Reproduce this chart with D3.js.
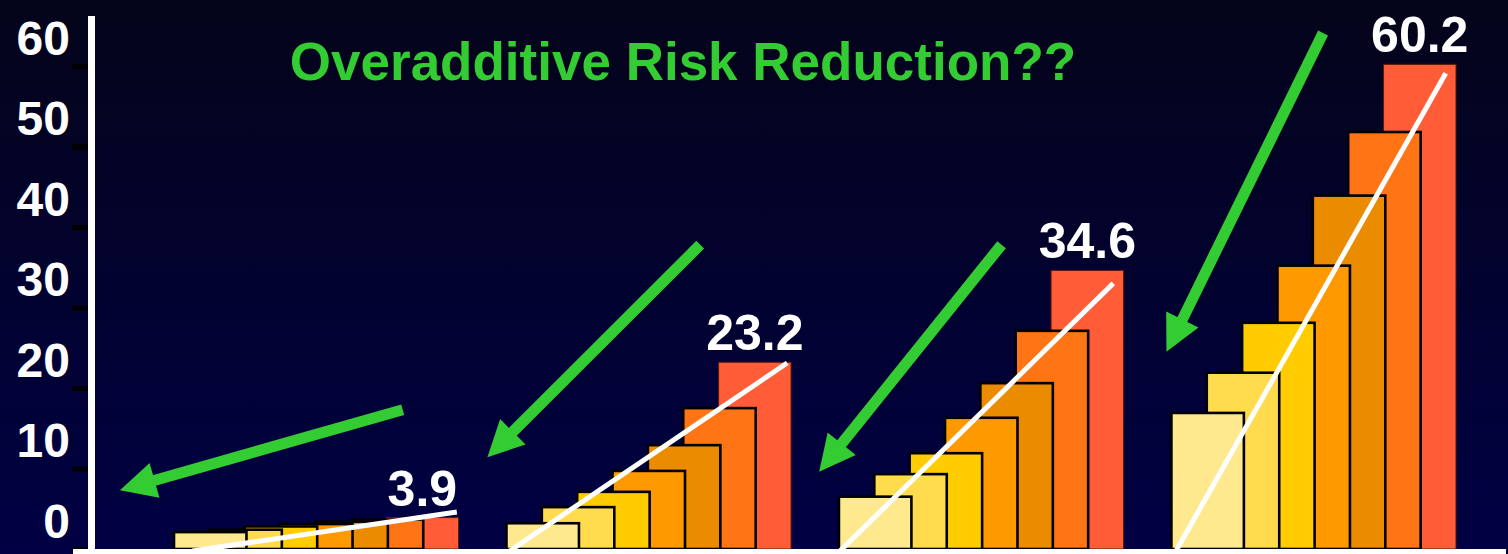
<!DOCTYPE html>
<html>
<head>
<meta charset="utf-8">
<script src="https://cdn.jsdelivr.net/npm/d3@7/dist/d3.min.js"></script>
<style>
  html, body { margin: 0; padding: 0; background: #000030; overflow: hidden; }
  svg { display: block; }
</style>
</head>
<body>
<svg id="chart" width="1508" height="554"></svg>
<script>
// Four scenarios, each a staircase of seven bars (cumulative risk reduction, %)
const groups = ["A", "B", "C", "D"];
const steps = [0, 1, 2, 3, 4, 5, 6];
const groupA = [2.1, 2.4, 2.8, 3.1, 3.4, 3.65, 3.9];
const groupB = [3.2, 5.2, 7.1, 9.7, 12.9, 17.5, 23.2];
const groupC = [6.5, 9.3, 11.9, 16.3, 20.6, 27.1, 34.6];
const groupD = [16.9, 21.9, 28.1, 35.2, 43.9, 51.8, 60.2];
const groupValues = [groupA, groupB, groupC, groupD];

const yTicks = [0, 10, 20, 30, 40, 50, 60];
const stepColors = ["#FFE98F", "#FFDB4D", "#FFCC00", "#FF9900", "#EB8C00", "#FF7515", "#FF5C37"];

// trend line through each staircase: [start step, end step], end value
const trendFrom = [0.52, 0.09, 0.03, 0.13];
const trendTo = [8.0, 7.94, 7.76, 7.76];
const trendEnd = [4.6, 23.1, 33.0, 59.1];

// green arrows, one per scenario: [step offset, value]
const arrowTail = [[6.47, 17.3], [5.48, 37.8], [4.6, 37.8], [4.29, 64.1]];
const arrowTip = [[-1.53, 7.3], [-0.54, 11.4], [-0.56, 9.6], [-0.14, 24.5]];

const titleText = "Overadditive Risk Reduction??";

const W = 1508, H = 554;
const svg = d3.select("#chart");

// background gradient
const defs = svg.append("defs");
const grad = defs.append("linearGradient").attr("id", "bg")
  .attr("x1", 0).attr("y1", 0).attr("x2", 0).attr("y2", 1);
grad.append("stop").attr("offset", "0%").attr("stop-color", "#04041a");
grad.append("stop").attr("offset", "100%").attr("stop-color", "#000044");
svg.append("rect").attr("width", W).attr("height", H).attr("fill", "url(#bg)");

// scales
const y = d3.scaleLinear().domain([0, 60]).range([549, 66]);
const xGroup = d3.scaleBand().domain(groups).range([174, 1456]).paddingInner(0.144).paddingOuter(0);
const xStep = d3.scaleLinear().domain([0, 8.05]).range([0, xGroup.bandwidth()]);
const barWidth = xStep(2.05);
const px = (g, s) => xGroup(groups[g]) + xStep(s);

// bars: the later (taller) bars sit behind the earlier ones
const gBars = svg.append("g");
groupValues.forEach((vals, gi) => {
  const grp = gBars.append("g");
  const order = steps.slice().reverse();
  grp.selectAll("rect").data(order).join("rect")
    .attr("x", s => px(gi, s))
    .attr("y", s => y(vals[s]))
    .attr("width", barWidth)
    .attr("height", s => y(0) - y(vals[s]))
    .attr("fill", s => stepColors[s])
    .attr("stroke", s => s === 6 ? "#5a1c0c" : "#000")
    .attr("stroke-width", s => s === 6 ? 1 : 2.6);
});

// trend lines
const line = d3.line().x(d => d[0]).y(d => d[1]);
svg.append("defs").append("clipPath").attr("id", "plotClip")
  .append("rect").attr("x", 0).attr("y", 0).attr("width", W).attr("height", y(0));
svg.append("g").attr("clip-path", "url(#plotClip)")
  .selectAll("path").data(groups).join("path")
  .attr("d", (g, gi) => line([[px(gi, trendFrom[gi]), y(0) + 2], [px(gi, trendTo[gi]), y(trendEnd[gi])]]))
  .attr("stroke", "#fff").attr("stroke-width", 5).attr("fill", "none");

// value labels above the last bar of each staircase
const fmt = d3.format(".1f");
svg.append("g").selectAll("text").data(groupValues).join("text")
  .attr("x", (vals, gi) => px(gi, 6) + barWidth / 2)
  .attr("y", vals => y(vals[6]) - 12)
  .attr("text-anchor", "middle")
  .attr("fill", "#fff")
  .style("font-family", "'Liberation Sans', Arial, sans-serif")
  .style("font-weight", "bold")
  .style("font-size", "50px")
  .text(vals => fmt(vals[6]));

// green arrows
const gArrows = svg.append("g");
groups.forEach((g, gi) => {
  const t0 = [px(gi, arrowTail[gi][0]), y(arrowTail[gi][1])];
  const t1 = [px(gi, arrowTip[gi][0]), y(arrowTip[gi][1])];
  const dx = t1[0] - t0[0], dy = t1[1] - t0[1];
  const len = Math.hypot(dx, dy);
  const ux = dx / len, uy = dy / len;
  const nx = -uy, ny = ux;
  const headL = 36, headW = 18;
  const base = [t1[0] - ux * headL, t1[1] - uy * headL];
  gArrows.append("line")
    .attr("x1", t0[0]).attr("y1", t0[1])
    .attr("x2", base[0] + ux * 4).attr("y2", base[1] + uy * 4)
    .attr("stroke", "#33CC33").attr("stroke-width", 11);
  gArrows.append("path")
    .attr("d", `M${t1[0]},${t1[1]}L${base[0] + nx * headW},${base[1] + ny * headW}L${base[0] - nx * headW},${base[1] - ny * headW}Z`)
    .attr("fill", "#33CC33");
});

// y axis
const axis = d3.axisLeft(y).tickValues(yTicks).tickSize(17).tickPadding(2).tickFormat(d3.format("d"));
const gAxis = svg.append("g").attr("transform", "translate(89,0)").call(axis);
gAxis.select(".domain").remove();
gAxis.selectAll(".tick line").attr("stroke", "#000").attr("stroke-width", 5);
gAxis.selectAll(".tick text")
  .attr("fill", "#fff")
  .attr("dy", -12)
  .style("font-family", "'Liberation Sans', Arial, sans-serif")
  .style("font-weight", "bold")
  .style("font-size", "48px");

// axis lines
svg.append("line").attr("x1", 91.5).attr("x2", 91.5).attr("y1", 16).attr("y2", H)
  .attr("stroke", "#fff").attr("stroke-width", 7);
svg.append("line").attr("x1", 73).attr("x2", 1506).attr("y1", y(0) + 3).attr("y2", y(0) + 3)
  .attr("stroke", "#fff").attr("stroke-width", 6);

// title
svg.append("text")
  .attr("x", 683).attr("y", 80)
  .attr("text-anchor", "middle")
  .attr("fill", "#33CC33")
  .style("font-family", "'Liberation Sans', Arial, sans-serif")
  .style("font-weight", "bold")
  .style("font-size", "53px")
  .text(titleText);
</script>
</body>
</html>
